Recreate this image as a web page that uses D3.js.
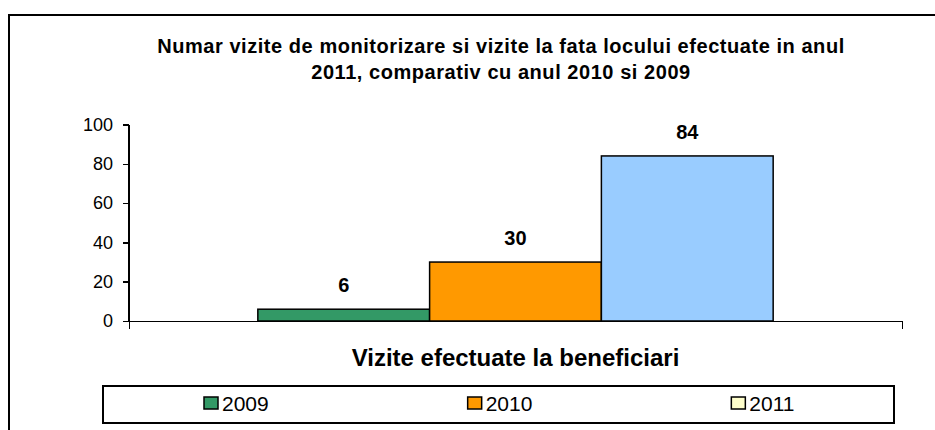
<!DOCTYPE html>
<html>
  <head>
  <script src="https://cdn.jsdelivr.net/npm/d3@7"></script>
  <style>
body { margin: 0; background: #fff; }
text { font-family: "Liberation Sans", Arial, sans-serif; fill: #000; }
.axis path, .axis line { stroke: #000; stroke-width: 1.5; shape-rendering: crispEdges; }
.axis text { font-size: 18px; }
.bar { stroke: #000; stroke-width: 1.5; }
  </style>
 </head>
  <body>
    <div id="chart"></div>
    <script type="text/javascript">

var categories = ["Vizite efectuate la beneficiari"];
var years = ["2009", "2010", "2011"];
var visits = [6, 30, 84];
var yTicks = [0, 20, 40, 60, 80, 100];
var titleLines = ["Numar vizite de monitorizare si vizite la fata locului efectuate in anul",
                  "2011, comparativ cu anul 2010 si 2009"];

var barColors = ["#339966", "#FF9900", "#99CCFF"];
var legendColors = ["#339966", "#FF9900", "#FFFFCC"];

var w = 935,
    h = 430,
    plotLeft = 129, plotRight = 902,
    plotTop = 124.5, plotBottom = 321;

var svg = d3.select("#chart").append("svg")
    .attr("width", w)
    .attr("height", h);

// outer chart frame, runs off the right and bottom edges
svg.append("rect")
    .attr("x", 9).attr("y", 15)
    .attr("width", 940).attr("height", 430)
    .style("fill", "none")
    .style("stroke", "#000")
    .style("stroke-width", 2);

svg.append("g").selectAll("text")
    .data(titleLines)
  .enter().append("text")
    .attr("x", 501)
    .attr("y", function(d, i) { return 53 + i * 26; })
    .attr("text-anchor", "middle")
    .style("font-size", "20px")
    .style("letter-spacing", "0.55px")
    .style("font-weight", "bold")
    .text(function(d) { return d; });

var y = d3.scaleLinear()
    .domain([0, 100])
    .range([plotBottom, plotTop]);

var x0 = d3.scaleBand()
    .domain(categories)
    .range([plotLeft, plotRight])
    .paddingInner(0)
    .paddingOuter(0.25);

var x1 = d3.scaleBand()
    .domain(years)
    .range([0, x0.bandwidth()])
    .padding(0);

var edge = d3.scaleLinear()
    .domain([0, 1])
    .range([plotLeft, plotRight]);

svg.append("g")
    .attr("class", "axis")
    .attr("transform", "translate(" + plotLeft + ",0)")
    .call(d3.axisLeft(y).tickValues(yTicks).tickSize(6).tickSizeOuter(0).tickPadding(10))
    .call(function(g) { g.select(".domain").attr("d", "M0," + plotTop + "V" + plotBottom); });

svg.append("g")
    .attr("class", "axis")
    .attr("transform", "translate(0," + plotBottom + ")")
    .call(d3.axisBottom(edge).tickValues([0, 1]).tickSize(8).tickSizeOuter(0).tickFormat(""));

var rows = years.map(function(d, i) { return {year: d, value: visits[i], color: barColors[i]}; });

var group = svg.append("g")
    .attr("transform", "translate(" + x0(categories[0]) + ",0)");

group.selectAll("rect")
    .data(rows)
  .enter().append("rect")
    .attr("class", "bar")
    .attr("x", function(d) { return x1(d.year); })
    .attr("y", function(d) { return y(d.value); })
    .attr("width", x1.bandwidth())
    .attr("height", function(d) { return plotBottom - y(d.value); })
    .style("fill", function(d) { return d.color; });

group.selectAll("text")
    .data(rows)
  .enter().append("text")
    .attr("x", function(d) { return x1(d.year) + x1.bandwidth() / 2; })
    .attr("y", function(d) { return y(d.value) - 17; })
    .attr("text-anchor", "middle")
    .style("font-size", "20px")
    .style("font-weight", "bold")
    .text(function(d) { return d.value; });

svg.append("text")
    .attr("x", x0(categories[0]) + x0.bandwidth() / 2)
    .attr("y", 366)
    .attr("text-anchor", "middle")
    .style("font-size", "24px")
    .style("font-weight", "bold")
    .text(categories[0]);

// legend
var legend = svg.append("g");
legend.append("rect")
    .attr("x", 103).attr("y", 386)
    .attr("width", 791).attr("height", 37)
    .style("fill", "#fff")
    .style("stroke", "#000")
    .style("stroke-width", 2);

var slot = 791 / years.length;
var item = legend.selectAll("g.item")
    .data(years)
  .enter().append("g")
    .attr("class", "item")
    .attr("transform", function(d, i) { return "translate(" + (103 + i * slot + 101) + ",0)"; });

item.append("rect")
    .attr("x", 0).attr("y", 397)
    .attr("width", 14).attr("height", 12)
    .style("fill", function(d, i) { return legendColors[i]; })
    .style("stroke", "#000")
    .style("stroke-width", 1.5);

item.append("text")
    .attr("x", 18)
    .attr("y", 411)
    .style("font-size", "21px")
    .text(function(d) { return d; });

    </script>
  </body>
</html>
